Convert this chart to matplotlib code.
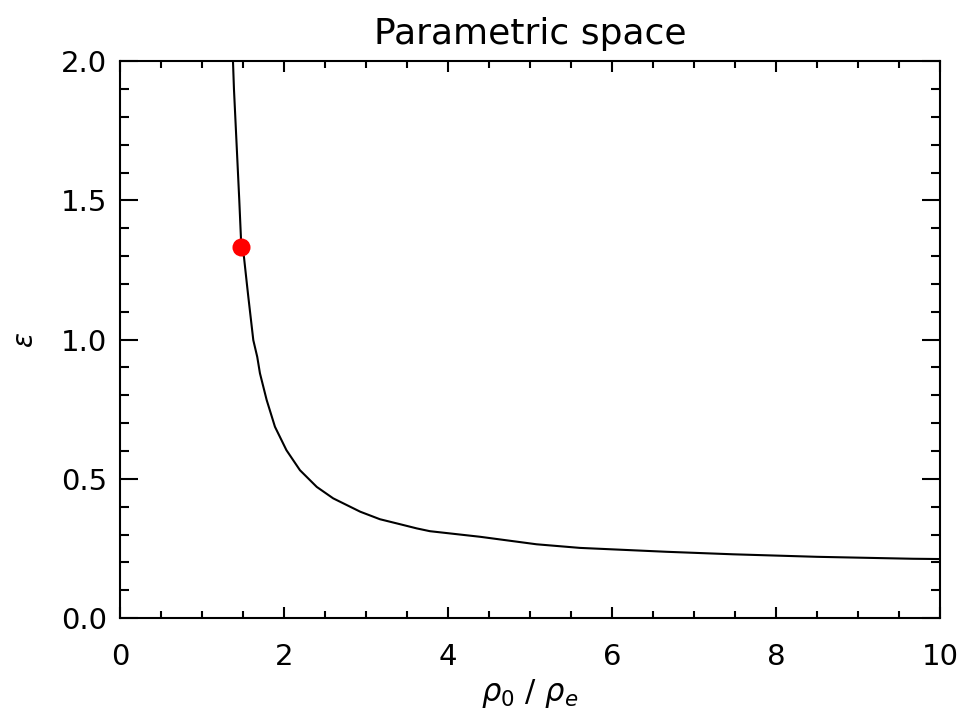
import matplotlib
matplotlib.use("Agg")
import matplotlib.pyplot as plt
from matplotlib.ticker import MultipleLocator, FormatStrFormatter

# density ratio rho_0 / rho_e along the curve
rho_ratio = [1.378, 1.39, 1.455, 1.48, 1.512, 1.547, 1.565, 1.626, 1.674, 1.707,
             1.789, 1.89, 2.03, 2.195, 2.40, 2.60, 2.93, 3.17, 3.41, 3.62,
             3.78, 4.39, 5.08, 5.61, 6.67, 7.48, 8.50, 9.67, 10.0]
# epsilon values on the curve
epsilon = [2.0, 1.9, 1.5, 1.333, 1.297, 1.202, 1.154, 0.998, 0.938, 0.879,
           0.783, 0.687, 0.603, 0.531, 0.471, 0.430, 0.382, 0.355, 0.3375, 0.322,
           0.312, 0.292, 0.265, 0.252, 0.238, 0.229, 0.220, 0.213, 0.212]

# selected point
point_x = [1.48]
point_y = [1.333]

fig = plt.figure(figsize=(9.63, 7.28), dpi=100)
ax = fig.add_axes([0.1246, 0.151, 0.8514, 0.765])

ax.plot(rho_ratio, epsilon, color='black', linewidth=1.5)
ax.plot(point_x, point_y, 'o', color='red', markersize=13, markeredgewidth=0)

ax.set_xlim(0, 10)
ax.set_ylim(0, 2)
ax.xaxis.set_major_locator(MultipleLocator(2))
ax.xaxis.set_minor_locator(MultipleLocator(0.5))
ax.yaxis.set_major_locator(MultipleLocator(0.5))
ax.yaxis.set_minor_locator(MultipleLocator(0.1))
ax.yaxis.set_major_formatter(FormatStrFormatter('%.1f'))

for spine in ax.spines.values():
    spine.set_linewidth(1.5)

ax.tick_params(axis='x', which='major', direction='in', top=True, length=8, width=1.5,
               pad=18, labelsize=21, colors='black')
ax.tick_params(axis='x', which='minor', direction='in', top=True, length=5, width=1.5)
ax.tick_params(axis='y', which='major', direction='in', right=True, length=13, width=1.5,
               pad=9, labelsize=21)
ax.tick_params(axis='y', which='minor', direction='in', right=True, length=6.5, width=1.5)

ax.set_title('Parametric space', fontsize=26, pad=12)
ax.set_xlabel(r'$\rho_0\ /\ \rho_e$', fontsize=22, labelpad=4)
ax.set_ylabel(r'$\epsilon$', fontsize=20, labelpad=16)

fig.savefig('out.png', dpi=100)
